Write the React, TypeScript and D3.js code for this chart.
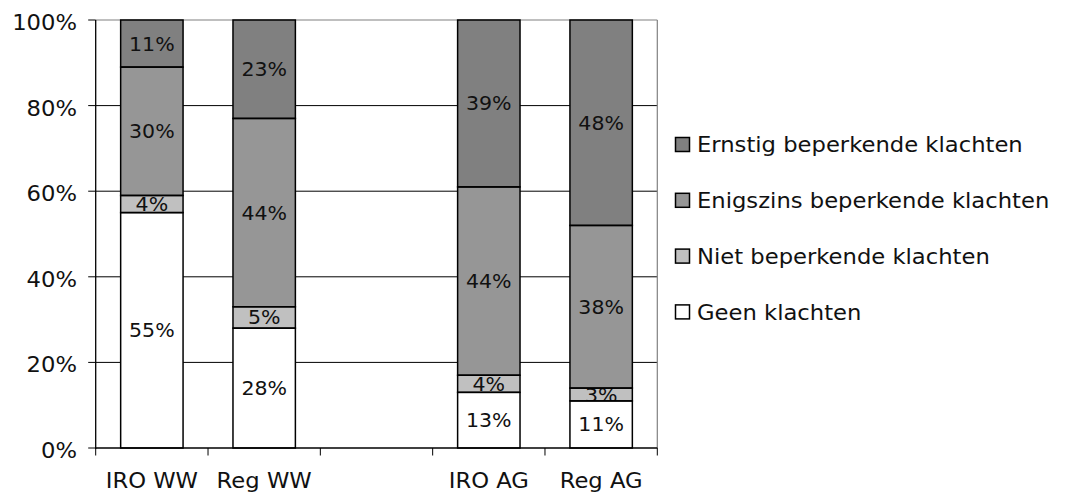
import React from "react";
import * as d3 from "d3";

const categories = ["IRO WW", "Reg WW", "", "IRO AG", "Reg AG"];
const geen = [55, 28, null, 13, 11];
const niet = [4, 5, null, 4, 3];
const enigszins = [30, 44, null, 44, 38];
const ernstig = [11, 23, null, 39, 48];
const seriesNames = [
  "Geen klachten",
  "Niet beperkende klachten",
  "Enigszins beperkende klachten",
  "Ernstig beperkende klachten",
];
const yTicks = [0, 20, 40, 60, 80, 100];

const W = 1068;
const H = 495;
const left = 95.7;
const right = 657.3;
const top = 20;
const bottom = 448;
const FONT = "'DejaVu Sans', Verdana, sans-serif";
const SX = 1.08;
const colors = ["#ffffff", "#c0c0c0", "#969696", "#808080"];

export default function App() {
  const x = d3
    .scaleBand<string>()
    .domain(categories.map((_, i) => String(i)))
    .range([left, right])
    .paddingInner(0)
    .paddingOuter(0);
  const y = d3.scaleLinear().domain([0, 100]).range([bottom, top]);
  const bw = x.bandwidth() / 1.8;
  const data = [geen, niet, enigszins, ernstig];

  const stacks = categories.map((_, i) => {
    let acc = 0;
    return data.map((s, k) => {
      const v = s[i];
      if (v == null) return null;
      const seg = { y0: acc, y1: acc + v, v, k };
      acc += v;
      return seg;
    });
  });

  const boundaries = d3.range(categories.length + 1).map((i) => left + i * x.bandwidth());
  const legendRows = [3, 2, 1, 0];
  const bx = (i: number) => (x(String(i)) as number) + (x.bandwidth() - bw) / 2;

  return (
    <div style={{ position: "fixed", left: 0, top: 0 }}>
      <svg width={W} height={H} style={{ display: "block", background: "#fff" }} fontFamily={FONT}>
        <defs>
          {stacks.map((st, i) =>
            st.map((seg) =>
              seg ? (
                <clipPath key={"c" + i + "-" + seg.k} id={`clip-${i}-${seg.k}`}>
                  <rect x={bx(i)} width={bw} y={y(seg.y1)} height={y(seg.y0) - y(seg.y1)} />
                </clipPath>
              ) : null
            )
          )}
        </defs>
        {yTicks
          .filter((t) => t > 0 && t < 100)
          .map((t) => (
            <line key={"g" + t} x1={left} x2={right} y1={y(t)} y2={y(t)} stroke="#000" strokeWidth={1} />
          ))}
        <line x1={left} x2={right} y1={y(100)} y2={y(100)} stroke="#808080" strokeWidth={1.2} />
        <line x1={right} x2={right} y1={y(100)} y2={y(0)} stroke="#808080" strokeWidth={1.2} />

        {stacks.map((st, i) =>
          st.map((seg) =>
            seg ? (
              <g key={i + "-" + seg.k}>
                <rect
                  x={bx(i)}
                  width={bw}
                  y={y(seg.y1)}
                  height={y(seg.y0) - y(seg.y1)}
                  fill={colors[seg.k]}
                />
                <g clipPath={`url(#clip-${i}-${seg.k})`}>
                  <text
                    transform={`translate(${(x(String(i)) as number) + x.bandwidth() / 2},${
                      (y(seg.y0) + y(seg.y1)) / 2 + 7
                    }) scale(${SX},1)`}
                    textAnchor="middle"
                    fontSize={19}
                    fill="#111"
                  >
                    {seg.v + "%"}
                  </text>
                </g>
              </g>
            ) : null
          )
        )}
        {stacks.map((st, i) =>
          st.map((seg) =>
            seg ? (
              <rect
                key={"s" + i + "-" + seg.k}
                x={bx(i)}
                width={bw}
                y={y(seg.y1)}
                height={y(seg.y0) - y(seg.y1)}
                fill="none"
                stroke="#000"
                strokeWidth={1.5}
              />
            ) : null
          )
        )}

        <line x1={left} x2={left} y1={top} y2={bottom + 1} stroke="#000" strokeWidth={1.3} />
        <line x1={left} x2={right} y1={bottom} y2={bottom} stroke="#000" strokeWidth={1.3} />
        {yTicks.map((t) => (
          <g key={"yt" + t}>
            <line x1={left - 7.5} x2={left} y1={y(t)} y2={y(t)} stroke="#000" strokeWidth={1} />
            <text
              transform={`translate(77,${y(t) + 9.9}) scale(${SX},1)`}
              textAnchor="end"
              fontSize={21}
              fill="#111"
            >
              {t + "%"}
            </text>
          </g>
        ))}
        {boundaries.map((b, i) => (
          <line key={"xt" + i} x1={b} x2={b} y1={bottom} y2={bottom + 7.5} stroke="#000" strokeWidth={1} />
        ))}
        {categories.map((c, i) => (
          <text
            key={"xl" + i}
            transform={`translate(${(x(String(i)) as number) + x.bandwidth() / 2},488) scale(${SX},1)`}
            textAnchor="middle"
            fontSize={21}
            fill="#111"
          >
            {c}
          </text>
        ))}

        {legendRows.map((k, r) => {
          const cy = 144.5 + r * 55.8;
          return (
            <g key={"lg" + k}>
              <rect x={675.5} y={cy - 7} width={14} height={14} fill={colors[k]} stroke="#000" strokeWidth={1.5} />
              <text transform={`translate(697,${cy + 7.6}) scale(${SX},1)`} fontSize={21} fill="#111">
                {seriesNames[k]}
              </text>
            </g>
          );
        })}
      </svg>
    </div>
  );
}
